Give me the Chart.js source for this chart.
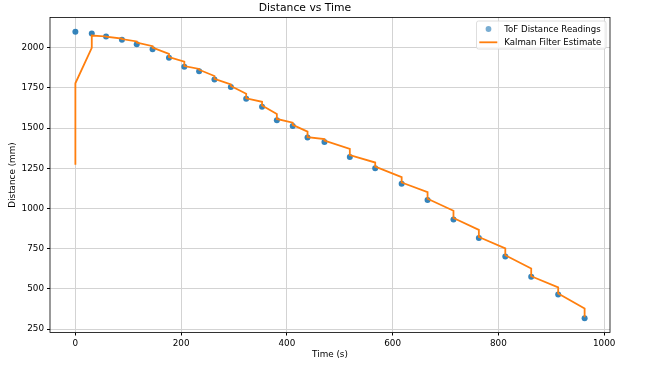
<!DOCTYPE html>
<html>
<head>
<meta charset="utf-8">
<script src="https://cdn.jsdelivr.net/npm/chart.js@4/dist/chart.umd.min.js"></script>
<style>
  html, body { margin: 0; padding: 0; background: #fff; }
  #wrap { width: 646px; height: 372px; }
</style>
</head>
<body>
<div id="wrap"><canvas id="chart" width="646" height="372"></canvas></div>
<script>
// measurement times (s) and ToF readings (mm)
const times = [0, 31, 58, 88, 116, 146, 177, 206, 234, 263, 294, 323, 353, 381, 411, 439, 471, 519, 567, 617, 666, 715, 763, 813, 862, 913, 963];
const tofReadings = [2099, 2089, 2070, 2049, 2022, 1991, 1937, 1882, 1853, 1803, 1756, 1683, 1633, 1549, 1514, 1441, 1414, 1321, 1251, 1154, 1053, 931, 816, 702, 575, 466, 318];

// Kalman estimate before (predicted) and after (updated) each reading
const kalmanPredicted = [1272, 1999, 2070, 2057, 2039, 2010, 1962, 1913, 1868, 1824, 1772, 1714, 1664, 1588, 1534, 1478, 1432, 1371, 1286, 1195, 1102, 986, 867, 752, 627, 510, 378];
const kalmanUpdated = [1779, 2076, 2069, 2054, 2032, 2001, 1942, 1886, 1863, 1807, 1762, 1685, 1641, 1557, 1520, 1444, 1422, 1332, 1261, 1162, 1061, 941, 823, 709, 579, 471, 324];

const xTicks = [0, 200, 400, 600, 800, 1000];
const yTicks = [250, 500, 750, 1000, 1250, 1500, 1750, 2000];

const orange = "#ff7f0e";
const font = "'DejaVu Sans', sans-serif";

const readingPoints = times.map((t, i) => ({ x: t, y: tofReadings[i] }));
const kalmanPoints = [];
times.forEach((t, i) => {
  kalmanPoints.push({ x: t, y: kalmanPredicted[i] });
  kalmanPoints.push({ x: t, y: kalmanUpdated[i] });
});

// matplotlib-like frame and legend box
const framePlugin = {
  id: "frame",
  afterDatasetsDraw(chart) {
    const { ctx, chartArea: a } = chart;
    ctx.save();
    ctx.strokeStyle = "#000";
    ctx.lineWidth = 0.8;
    ctx.strokeRect(a.left, a.top, a.right - a.left, a.bottom - a.top);
    ctx.restore();
  },
  afterDraw(chart) {
    const { ctx } = chart;
    const ds = chart.data.datasets;
    const x = 476.5, y = 21, w = 129.5, h = 28;
    ctx.save();
    ctx.fillStyle = "rgba(255,255,255,0.8)";
    ctx.strokeStyle = "#d6d6d6";
    ctx.lineWidth = 0.8;
    ctx.beginPath();
    ctx.roundRect(x, y, w, h, 2);
    ctx.fill();
    ctx.stroke();

    ctx.font = "8.6px " + font;
    ctx.textBaseline = "middle";

    ctx.fillStyle = "rgba(31,119,180,0.6)";
    ctx.beginPath();
    ctx.arc(488.5, 29, 2.9, 0, Math.PI * 2);
    ctx.fill();
    ctx.fillStyle = "#000";
    ctx.fillText(ds[0].label, 504.3, 29.3);

    ctx.strokeStyle = orange;
    ctx.lineWidth = 1.8;
    ctx.beginPath();
    ctx.moveTo(479.3, 42.3);
    ctx.lineTo(497.3, 42.3);
    ctx.stroke();
    ctx.fillText(ds[1].label, 504.3, 42.6);
    ctx.restore();
  },
};

const gridColor = "#d3d3d3";
const plainNumber = v => String(v);

new Chart(document.getElementById("chart"), {
  type: "scatter",
  data: {
    datasets: [
      {
        label: "ToF Distance Readings",
        data: readingPoints,
        backgroundColor: "rgba(31,119,180,0.9)",
        borderWidth: 0,
        pointRadius: 3,
        order: 1,
      },
      {
        label: "Kalman Filter Estimate",
        type: "line",
        data: kalmanPoints,
        borderColor: orange,
        borderWidth: 1.8,
        pointRadius: 0,
        tension: 0,
        fill: false,
        order: 0,
      },
    ],
  },
  options: {
    responsive: false,
    animation: false,
    devicePixelRatio: 1,
    layout: { padding: { left: 0, right: 36, top: 0, bottom: 0 } },
    plugins: {
      legend: { display: false },
      tooltip: { enabled: false },
      title: {
        display: true,
        text: "Distance vs Time",
        color: "#000",
        font: { family: font, size: 10.8, weight: "normal", lineHeight: 1.2 },
        padding: { top: 1.5, bottom: 3.04 },
      },
    },
    scales: {
      x: {
        type: "linear",
        min: -48,
        max: 1011,
        afterBuildTicks: s => { s.ticks = xTicks.map(v => ({ value: v })); },
        afterFit: s => { s.height = 39.5; },
        ticks: { color: "#000", padding: 3, maxRotation: 0, callback: plainNumber, font: { family: font, size: 8.8 } },
        grid: { color: gridColor, lineWidth: 1, tickLength: 3, tickColor: "#000" },
        border: { display: false },
        title: {
          display: true,
          text: "Time (s)",
          color: "#000",
          font: { family: font, size: 8.8, lineHeight: 1.2 },
          padding: { top: 0, bottom: 11.6 },
        },
      },
      y: {
        type: "linear",
        min: 229,
        max: 2188,
        afterBuildTicks: s => { s.ticks = yTicks.map(v => ({ value: v })); },
        afterFit: s => { s.width = 50; },
        ticks: { color: "#000", padding: 3, callback: plainNumber, font: { family: font, size: 8.8 } },
        grid: { color: gridColor, lineWidth: 1, tickLength: 3, tickColor: "#000" },
        border: { display: false },
        title: {
          display: true,
          text: "Distance (mm)",
          color: "#000",
          font: { family: font, size: 8.8, lineHeight: 1.2 },
          padding: { top: 7.6, bottom: 0 },
        },
      },
    },
  },
  plugins: [framePlugin],
});
</script>
</body>
</html>
